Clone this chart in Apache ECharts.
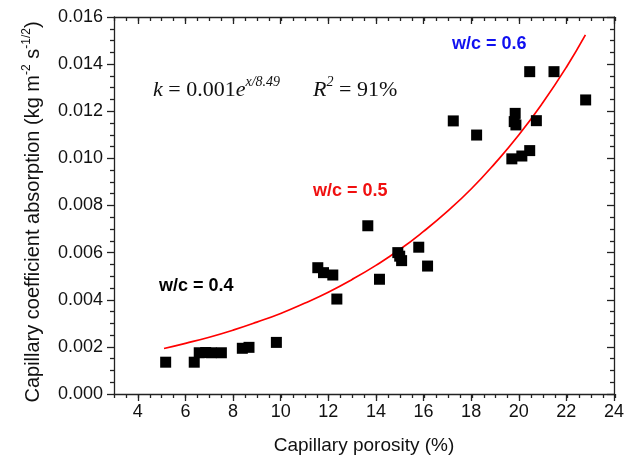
<!DOCTYPE html>
<html><head><meta charset="utf-8">
<script src="https://cdn.jsdelivr.net/npm/echarts@6/dist/echarts.min.js"></script>
<style>html,body{margin:0;padding:0;background:#fff}#c{width:627px;height:459px}</style>
</head><body><div id="c"></div>
<script>
// Measured points: capillary porosity (%) vs capillary absorption coefficient
const porosity = [5.17, 6.37, 6.58, 6.85, 7.08, 7.51, 8.39, 8.67, 9.82,
  11.56, 11.80, 12.19, 12.36, 13.66, 14.15, 14.92, 15.00, 15.08, 15.80, 16.17,
  17.25, 18.23, 19.71, 20.13, 20.46, 19.85, 19.81, 19.88, 20.74, 20.46, 21.48, 22.81];
const absorption = [0.00135, 0.00135, 0.00175, 0.00176, 0.00175, 0.00175, 0.00194, 0.00198, 0.00219,
  0.00536, 0.00515, 0.00505, 0.00403, 0.00714, 0.00487, 0.00600, 0.00585, 0.00566, 0.00623, 0.00543,
  0.01159, 0.01099, 0.00998, 0.01010, 0.01033, 0.01191, 0.01156, 0.01142, 0.01160, 0.01368, 0.01368, 0.01248];
// Fitted curve
const fitX = [5.1, 6, 7, 8, 9, 10, 11, 12, 13, 14, 15, 16, 17, 18, 19, 20, 21, 22, 22.8];
const fitY = [0.00193, 0.00215, 0.00241, 0.00271, 0.00305, 0.00342, 0.00385, 0.00432, 0.00486,
  0.00546, 0.00613, 0.00690, 0.00775, 0.00870, 0.00979, 0.01099, 0.01235, 0.01387, 0.01524];
// Tick positions
const xTickValues = [4, 6, 8, 10, 12, 14, 16, 18, 20, 22, 24];
const xMinorTickValues = [3, 3.5, 4, 4.5, 5, 5.5, 6, 6.5, 7, 7.5, 8, 8.5, 9, 9.5, 10, 10.5, 11, 11.5,
  12, 12.5, 13, 13.5, 14, 14.5, 15, 15.5, 16, 16.5, 17, 17.5, 18, 18.5, 19, 19.5, 20, 20.5,
  21, 21.5, 22, 22.5, 23, 23.5, 24];
const yTickValues = [0, 0.002, 0.004, 0.006, 0.008, 0.010, 0.012, 0.014, 0.016];

const FONT = 'Liberation Sans, Arial, sans-serif';
const AX = '#222';
const gridRect = { left: 114, right: 12, top: 17, bottom: 65 };

const chart = echarts.init(document.getElementById('c'), null, { renderer: 'canvas' });
const lineStyle = { color: AX, width: 1.3 };
const baseX = { type: 'value', min: 3, max: 24, splitLine: { show: false } };
const baseY = { type: 'value', min: 0, max: 0.016, interval: 0.002, splitLine: { show: false } };

chart.setOption({
  backgroundColor: '#fff',
  animation: false,
  grid: [Object.assign({}, gridRect), Object.assign({}, gridRect)],
  xAxis: [
    // major ticks + labels (grid 0 carries the data)
    Object.assign({}, baseX, { gridIndex: 0, position: 'bottom',
      axisLine: { show: true, onZero: false, lineStyle },
      axisTick: { show: true, length: 7, lineStyle, customValues: xTickValues },
      axisLabel: { show: true, customValues: xTickValues, margin: 9, color: '#111', fontSize: 18, fontFamily: FONT } }),
    Object.assign({}, baseX, { gridIndex: 0, position: 'top',
      axisLine: { show: true, onZero: false, lineStyle },
      axisTick: { show: true, inside: true, length: 7, lineStyle, customValues: xTickValues },
      axisLabel: { show: false } }),
    // minor ticks
    Object.assign({}, baseX, { gridIndex: 1, position: 'bottom',
      axisLine: { show: false, onZero: false },
      axisTick: { show: true, length: 4, lineStyle, customValues: xMinorTickValues },
      axisLabel: { show: false } }),
    Object.assign({}, baseX, { gridIndex: 1, position: 'top',
      axisLine: { show: false, onZero: false },
      axisTick: { show: true, inside: true, length: 4, lineStyle, customValues: xMinorTickValues },
      axisLabel: { show: false } })
  ],
  yAxis: [
    Object.assign({}, baseY, { gridIndex: 0, position: 'left',
      axisLine: { show: true, onZero: false, lineStyle },
      axisTick: { show: true, length: 7, lineStyle },
      minorTick: { show: true, splitNumber: 4, length: 4, lineStyle },
      axisLabel: { margin: 11, color: '#111', fontSize: 18, fontFamily: FONT,
        formatter: v => v.toFixed(3) } }),
    Object.assign({}, baseY, { gridIndex: 0, position: 'right',
      axisLine: { show: true, onZero: false, lineStyle },
      axisTick: { show: true, inside: true, length: 7, lineStyle },
      minorTick: { show: true, splitNumber: 4, length: 4, lineStyle },
      axisLabel: { show: false } }),
    Object.assign({}, baseY, { gridIndex: 1, position: 'left',
      axisLine: { show: false }, axisTick: { show: false }, axisLabel: { show: false } })
  ],
  series: [
    {
      type: 'line', xAxisIndex: 0, yAxisIndex: 0,
      data: fitX.map((x, i) => [x, fitY[i]]),
      smooth: true, showSymbol: false, symbol: 'none',
      lineStyle: { color: '#ff0000', width: 1.7 }, z: 3
    },
    {
      type: 'scatter', xAxisIndex: 0, yAxisIndex: 0,
      data: porosity.map((x, i) => [x, absorption[i]]),
      symbol: 'rect', symbolSize: 11,
      itemStyle: { color: '#000', opacity: 1 }, z: 4
    }
  ],
  graphic: [
    { type: 'text', left: 153, top: 75, z: 10,
      style: {
        text: '{i|k} = 0.001{i|e}{s|x/8.49}      {i|R}{s|2} = 91%',
        font: "22px 'Liberation Serif', serif", fill: '#111', lineHeight: 30,
        rich: {
          i: { fontFamily: 'Liberation Serif', fontStyle: 'italic', fontSize: 22, lineHeight: 30 },
          s: { fontFamily: 'Liberation Serif', fontStyle: 'italic', fontSize: 14, lineHeight: 18, verticalAlign: 'top' }
        }
      } },
    { type: 'text', left: 452, top: 35, z: 10,
      style: { text: 'w/c = 0.6', font: "bold 18px 'Liberation Sans', Arial", fill: '#1010f0' } },
    { type: 'text', left: 313, top: 182, z: 10,
      style: { text: 'w/c = 0.5', font: "bold 18px 'Liberation Sans', Arial", fill: '#f01010' } },
    { type: 'text', left: 159, top: 277, z: 10,
      style: { text: 'w/c = 0.4', font: "bold 18px 'Liberation Sans', Arial", fill: '#000' } },
    { type: 'text', x: 364, y: 446, z: 10,
      style: { text: 'Capillary porosity (%)', font: "19px 'Liberation Sans', Arial", fill: '#111',
        align: 'center', verticalAlign: 'middle' } },
    { type: 'text', x: 33, y: 212, rotation: Math.PI / 2, z: 10,
      style: {
        text: 'Capillary coefficient absorption (kg m{s|-2} s{s|-1/2})',
        font: "20px 'Liberation Sans', Arial", fill: '#111', lineHeight: 24,
        align: 'center', verticalAlign: 'middle',
        rich: { s: { fontFamily: 'Liberation Sans', fontSize: 12, lineHeight: 14, verticalAlign: 'top' } }
      } }
  ]
});
</script>
</body></html>
